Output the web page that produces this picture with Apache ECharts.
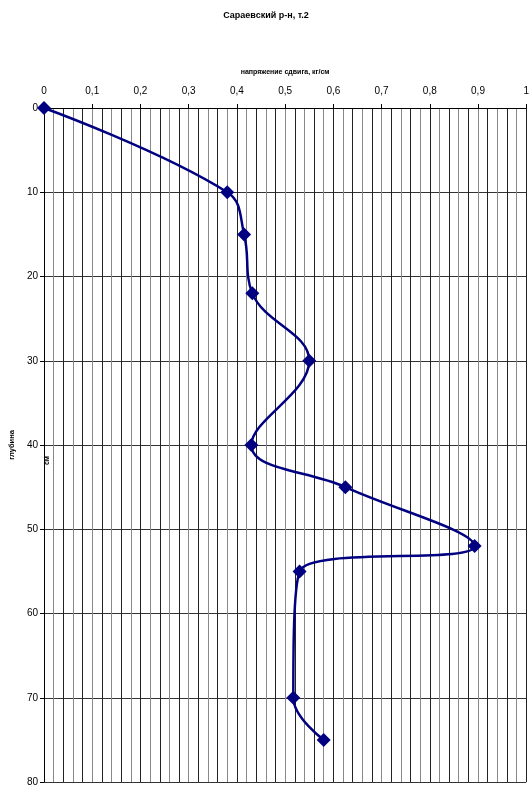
<!DOCTYPE html>
<html>
<head>
<meta charset="utf-8">
<script src="https://cdn.jsdelivr.net/npm/echarts@6/dist/echarts.min.js"></script>
<style>html,body{margin:0;padding:0;background:#fff;}#c{width:532px;height:787px;}</style>
</head>
<body>
<div id="c"></div>
<script>
const titleText = 'Сараевский р-н, т.2';
const xName = 'напряжение сдвига, кг/см';
const yName = 'глубина';
const yUnit = 'см';
const stress = [0, 0.38, 0.415, 0.432, 0.55, 0.43, 0.625, 0.893, 0.53, 0.517, 0.58];
const depth  = [0, 10, 15, 22, 30, 40, 45, 52, 55, 70, 75];

const chart = echarts.init(document.getElementById('c'), null, {renderer: 'canvas'});
const font = 'Liberation Sans, Arial, sans-serif';
const gridPos = {left: 44, right: 3, top: 108, bottom: 2};
chart.setOption({
  backgroundColor: '#fff',
  animation: false,
  title: {text: titleText, left: 'center', top: 6,
    textStyle: {fontFamily: font, fontSize: 9, fontWeight: 'bold', color: '#000'}},
  grid: gridPos,
  xAxis: [{
    type: 'value', position: 'top', min: 0, max: 1, interval: 0.1,
    name: xName, nameLocation: 'middle', nameGap: 32,
    nameTextStyle: {fontFamily: font, fontSize: 7, fontWeight: 'bold', color: '#000'},
    axisLine: {show: true, lineStyle: {color: '#000', width: 1}},
    axisTick: {show: true, inside: false, length: 4, lineStyle: {color: '#000'}},
    axisLabel: {fontFamily: font, fontSize: 10, color: '#000', margin: 12,
      formatter: v => String(Math.round(v * 10) / 10).replace('.', ',')},
    splitLine: {show: false}
  }, {
    type: 'value', position: 'bottom', min: 0, max: 1, interval: 0.02,
    axisLine: {show: false}, axisTick: {show: false}, axisLabel: {show: false},
    splitLine: {show: true, lineStyle: {color: ['#222', '#888'], width: 1}}
  }],
  yAxis: {
    type: 'value', inverse: true, min: 0, max: 80, interval: 10,
    name: yName, nameLocation: 'middle', nameGap: 26, nameRotate: 90,
    nameTextStyle: {fontFamily: font, fontSize: 7.5, fontWeight: 'bold', color: '#000'},
    axisLine: {show: true, lineStyle: {color: '#000', width: 1}},
    axisTick: {show: true, length: 4, lineStyle: {color: '#000'}},
    axisLabel: {fontFamily: font, fontSize: 10, color: '#000', margin: 6},
    splitLine: {show: true, lineStyle: {color: '#333', width: 1}}
  },
  graphic: [{
    type: 'text', left: 44, top: 456, rotation: Math.PI / 2,
    style: {text: yUnit, font: 'bold 7px ' + font, fill: '#000'}
  }],
  series: [{
    type: 'line', xAxisIndex: 0,
    data: stress.map((v, i) => [v, depth[i]]),
    smooth: 0.4,
    symbol: 'diamond', symbolSize: 14,
    itemStyle: {color: '#000080'},
    lineStyle: {color: '#000080', width: 2.5}
  }]
});
</script>
</body>
</html>
